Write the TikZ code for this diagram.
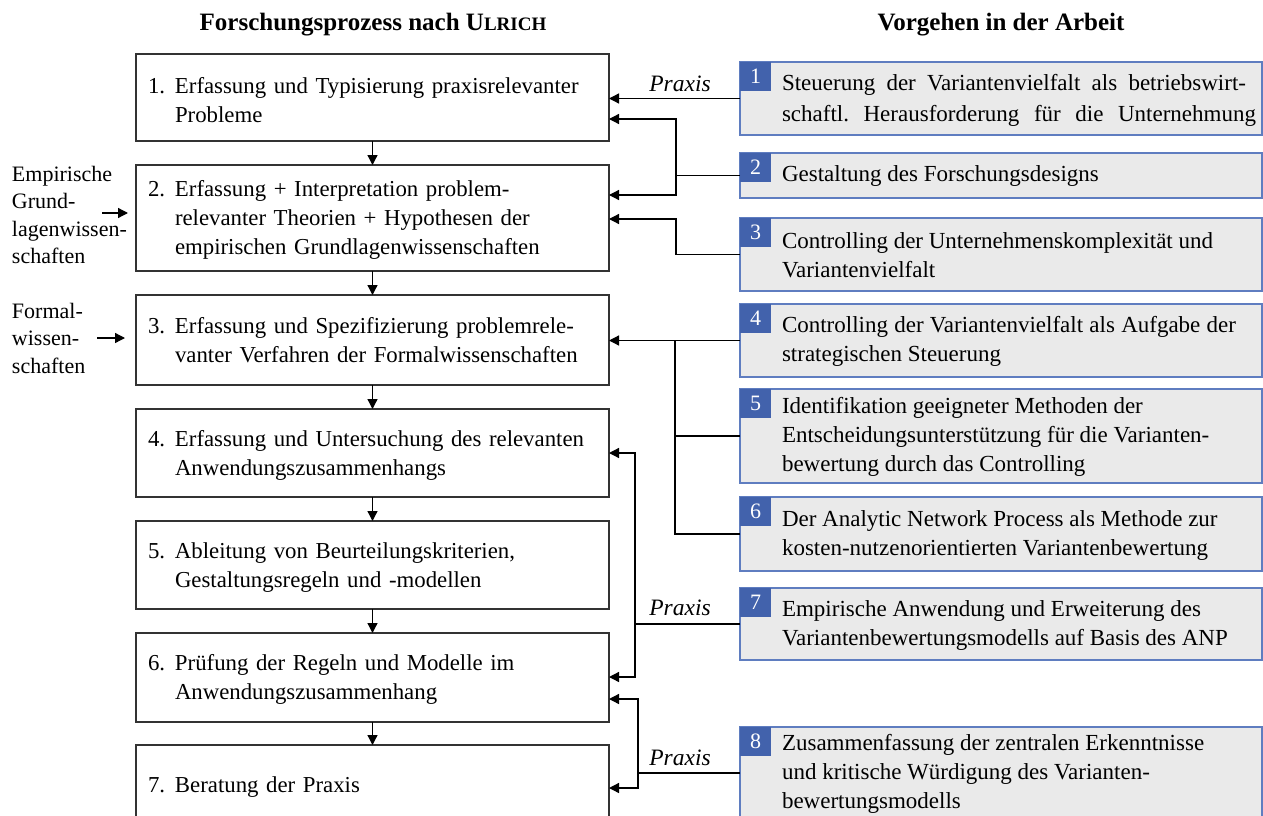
\documentclass[tikz,border=0pt]{standalone}
\usepackage{fontspec}
\setmainfont{Liberation Serif}
\usetikzlibrary{arrows.meta,calc}
\definecolor{tabblue}{RGB}{66,98,172}
\definecolor{bordblue}{RGB}{95,125,192}
\definecolor{boxgray}{RGB}{234,234,234}
\frenchspacing
\newcommand\ltab[2]{\raisebox{#1}[\height][\depth]{\begin{tabular}{@{}p{27pt}@{}l@{}}#2\end{tabular}}}
\newcommand\sline[2]{\makebox[#1][s]{#2}}
\begin{document}
\begin{tikzpicture}[x=1pt,y=-1pt,
  every node/.style={inner sep=0pt,outer sep=0pt},
  fs/.style={font=\fontsize{23}{29}\selectfont},
  lfs/.style={font=\fontsize{22.8}{29}\selectfont},
  lbox/.style={draw=black!80, line width=1.3pt, minimum width=473pt, text width=449pt, inner xsep=12pt, inner ysep=0pt, align=left, lfs},
  rbox/.style={draw=bordblue, fill=boxgray, line width=1.3pt, minimum width=522pt},
  tabbox/.style={fill=tabblue, text=white, anchor=north west, minimum width=31pt, minimum height=29pt, font=\fontsize{22}{22}\selectfont},
  rtext/.style={anchor=west, align=left, fs},
  lside/.style={anchor=west, align=left, font=\fontsize{22}{27.5}\selectfont},
  arr/.style={line width=1.3pt, -{Triangle[length=10pt,width=10pt]}},
  ln/.style={line width=1.3pt},
  prx/.style={font=\fontsize{23.5}{23.5}\selectfont\itshape},
  head/.style={font=\fontsize{25}{25}\selectfont\bfseries},
]
\useasboundingbox (0,0) rectangle (1263,816);

% headings
\node[head] (h1) at (373,25) {Forschungsprozess nach U{\fontsize{19}{19}\selectfont LRICH}};
\node[head] (h2) at (1001,25) {Vorgehen in der Arbeit};

% left boxes
\node[lbox, minimum height=87pt] (b1) at (372.5,97.5) {\ltab{-4.5pt}{1. & Erfassung und Typisierung praxisrelevanter\\ & Probleme}};
\node[lbox, minimum height=106pt] (b2) at (372.5,218) {\ltab{-2pt}{2. & Erfassung + Interpretation problem-\\ & relevanter Theorien + Hypothesen der\\ & empirischen Grundlagenwissenschaften}};
\node[lbox, minimum height=90pt] (b3) at (372.5,340) {\ltab{-2pt}{3. & \sline{403pt}{Erfassung und Spezifizierung problemrele-}\\ & vanter Verfahren der Formalwissenschaften}};
\node[lbox, minimum height=88pt] (b4) at (372.5,453) {\ltab{-2pt}{4. & Erfassung und Untersuchung des relevanten\\ & Anwendungszusammenhangs}};
\node[lbox, minimum height=88pt] (b5) at (372.5,565) {\ltab{-2pt}{5. & Ableitung von Beurteilungskriterien,\\ & Gestaltungsregeln und -modellen}};
\node[lbox, minimum height=89pt] (b6) at (372.5,677.5) {\ltab{-2pt}{6. & Prüfung der Regeln und Modelle im\\ & Anwendungszusammenhang}};
\node[lbox, minimum height=83pt] (b7) at (372.5,786.5) {\ltab{0pt}{7. & Beratung der Praxis}};

\draw[arr] (b1.south) -- (b2.north);
\draw[arr] (b2.south) -- (b3.north);
\draw[arr] (b3.south) -- (b4.north);
\draw[arr] (b4.south) -- (b5.north);
\draw[arr] (b5.south) -- (b6.north);
\draw[arr] (b6.south) -- (b7.north);

% left side inputs
\node[lside] (e1) at (12,215) {Empirische\\Grund-\\lagenwissen-\\schaften};
\coordinate (ea) at (102,213);
\coordinate (eb) at (128,213);
\draw[arr] (ea) -- (eb);
\node[lside] (f1) at (12,338) {Formal-\\wissen-\\schaften};
\coordinate (fa) at (97,338);
\coordinate (fb) at (125,338);
\draw[arr] (fa) -- (fb);

% right boxes
\node[rbox, minimum height=73pt] (r1) at (1001,98.5) {};
\node[rbox, minimum height=45pt] (r2) at (1001,175.5) {};
\node[rbox, minimum height=73pt] (r3) at (1001,254.5) {};
\node[rbox, minimum height=73pt] (r4) at (1001,340.5) {};
\node[rbox, minimum height=94pt] (r5) at (1001,436) {};
\node[rbox, minimum height=74pt] (r6) at (1001,534) {};
\node[rbox, minimum height=72pt] (r7) at (1001,624) {};
\node[rbox, minimum height=92pt] (r8) at (1001,773) {};

\node[tabbox] (n1) at (740,62) {1};
\node[tabbox] (n2) at (740,153) {2};
\node[tabbox] (n3) at (740,218) {3};
\node[tabbox] (n4) at (740,304) {4};
\node[tabbox] (n5) at (740,389) {5};
\node[tabbox] (n6) at (740,497) {6};
\node[tabbox] (n7) at (740,588) {7};
\node[tabbox] (n8) at (740,727) {8};

\node[rtext, font=\fontsize{23}{31}\selectfont] (x1) at ([xshift=42pt,yshift=-2pt]r1.west) {\sline{464pt}{Steuerung der Variantenvielfalt als betriebswirt-}\\\sline{474pt}{schaftl. Herausforderung für die Unternehmung}};
\node[rtext] (x2) at ([xshift=42pt,yshift=-1pt]r2.west) {Gestaltung des Forschungsdesigns};
\node[rtext] (x3) at ([xshift=42pt,yshift=-1pt]r3.west) {\sline{431pt}{Controlling der Unternehmenskomplexität und}\\Variantenvielfalt};
\node[rtext] (x4) at ([xshift=42pt,yshift=-1pt]r4.west) {\sline{454pt}{Controlling der Variantenvielfalt als Aufgabe der}\\strategischen Steuerung};
\node[rtext] (x5) at ([xshift=42pt,yshift=-1pt]r5.west) {Identifikation geeigneter Methoden der\\Entscheidungsunterstützung für die Varianten-\\bewertung durch das Controlling};
\node[rtext] (x6) at ([xshift=42pt,yshift=-1pt]r6.west) {Der Analytic Network Process als Methode zur\\kosten-nutzenorientierten Variantenbewertung};
\node[rtext] (x7) at ([xshift=42pt,yshift=-1pt]r7.west) {Empirische Anwendung und Erweiterung des\\Variantenbewertungsmodells auf Basis des ANP};
\node[rtext] (x8) at ([xshift=42pt,yshift=-1pt]r8.west) {Zusammenfassung der zentralen Erkenntnisse\\und kritische Würdigung des Varianten-\\bewertungsmodells};

% connectors
\draw[arr] (r1.west) -- (b1.east |- r1.west);
\node[prx] (p1) at (680,84) {Praxis};

\coordinate (k1) at (676,119);
\coordinate (k2) at (676,195);
\draw[ln] (r2.west) -- (k1 |- r2.west);
\draw[arr] (k1 |- r2.west) -- (k1) -- (b1.east |- k1);
\draw[arr] (k1 |- r2.west) -- (k2) -- (b2.east |- k2);

\coordinate (k3) at (676,219);
\draw[arr] (r3.west) -- (k3 |- r3.west) -- (k3) -- (b2.east |- k3);

\draw[arr] (r4.west) -- (b3.east |- r4.west);
\coordinate (k4) at (675,340.5);
\draw[ln] (r6.west) -- (k4 |- r6.west) -- (k4);
\draw[ln] (r5.west) -- (k4 |- r5.west);

\coordinate (k5) at (635,453);
\coordinate (k6) at (635,677);
\draw[ln] (r7.west) -- (k5 |- r7.west);
\draw[arr] (k5 |- r7.west) -- (k5) -- (b4.east |- k5);
\draw[arr] (k5 |- r7.west) -- (k6) -- (b6.east |- k6);
\node[prx] (p2) at (680,608) {Praxis};

\coordinate (k7) at (638,699);
\coordinate (k8) at (638,788);
\draw[ln] (r8.west) -- (k7 |- r8.west);
\draw[arr] (k7 |- r8.west) -- (k7) -- (b6.east |- k7);
\draw[arr] (k7 |- r8.west) -- (k8) -- (b7.east |- k8);
\node[prx] (p3) at (680,758) {Praxis};
\end{tikzpicture}
\end{document}
